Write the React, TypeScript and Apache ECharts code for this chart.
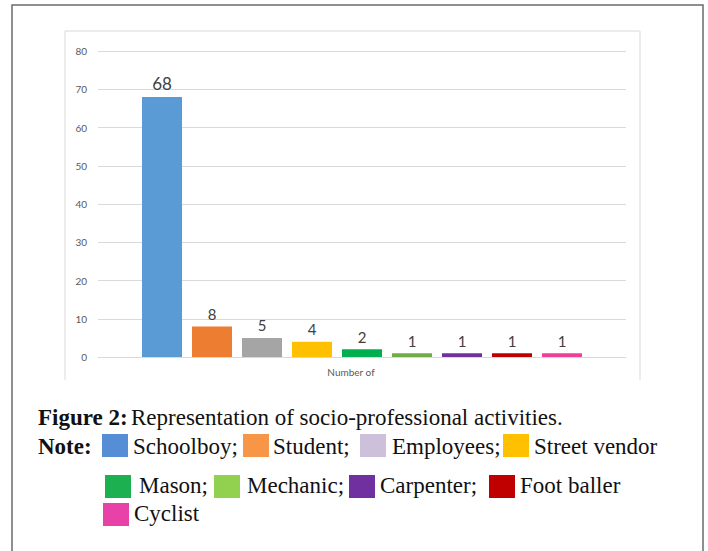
import React, { useEffect, useRef } from "react";
import * as echarts from "echarts";

const categories = ["Number of"];
const professions = [
  "Schoolboy",
  "Student",
  "Employees",
  "Street vendor",
  "Mason",
  "Mechanic",
  "Carpenter",
  "Foot baller",
  "Cyclist",
];
const counts = [68, 8, 5, 4, 2, 1, 1, 1, 1];
const barColors = [
  "#5B9BD5",
  "#ED7D31",
  "#A5A5A5",
  "#FFC000",
  "#00B050",
  "#70AD47",
  "#7030A0",
  "#C00000",
  "#EF3F9B",
];
const legendColors = [
  "#558ED5",
  "#F79646",
  "#CCC0DA",
  "#FFC000",
  "#1DB050",
  "#92D050",
  "#7030A0",
  "#C00000",
  "#E842A8",
];
const legendTexts = [
  "Schoolboy;",
  "Student;",
  "Employees;",
  "Street vendor",
  "Mason;",
  "Mechanic;",
  "Carpenter;",
  "Foot baller",
  "Cyclist",
];
const captionTitle = "Figure 2:";
const captionText = "Representation of socio-professional activities.";
const noteLabel = "Note:";

// layout of the legend (swatch x, text x, row index)
const legendLayout = [
  [102, 133, 0],
  [243, 273, 0],
  [360, 392, 0],
  [503, 534, 0],
  [105, 139, 1],
  [214, 247, 1],
  [349, 380, 1],
  [489, 520, 1],
  [103, 134, 2],
];
const rowTop = [434, 475, 503];
const rowBase = [453, 492, 520];

export default function App() {
  const ref = useRef<HTMLDivElement>(null);
  useEffect(() => {
    if (!ref.current) return;
    const chart = echarts.init(ref.current, undefined, { renderer: "svg" });
    const serif = "'Liberation Serif', 'Times New Roman', serif";
    const fs = 23;
    const graphics: any[] = [
      {
        type: "polyline",
        shape: { points: [[12, 551], [12, 5], [703, 5], [703, 551]] },
        style: { stroke: "#6b6b6b", lineWidth: 1.5, fill: "none" },
        silent: true,
      },
      {
        type: "polyline",
        shape: { points: [[65, 380], [65, 31], [640, 31], [640, 380]] },
        style: { stroke: "#d9d9d9", lineWidth: 1, fill: "none" },
        silent: true,
      },
      {
        type: "text",
        x: 38,
        y: 424 - 7,
        style: {
          text: captionTitle,
          font: `bold ${fs}px ${serif}`,
          fill: "#111",
          verticalAlign: "middle",
        },
      },
      {
        type: "text",
        x: 131,
        y: 424 - 7,
        style: {
          text: captionText,
          font: `${fs}px ${serif}`,
          fill: "#111",
          verticalAlign: "middle",
        },
      },
      {
        type: "text",
        x: 38,
        y: 453 - 7,
        style: {
          text: noteLabel,
          font: `bold ${fs}px ${serif}`,
          fill: "#111",
          verticalAlign: "middle",
        },
      },
    ];
    legendTexts.forEach((t, i) => {
      const [sx, tx, r] = legendLayout[i];
      graphics.push({
        type: "rect",
        shape: { x: sx, y: rowTop[r], width: 26, height: 23 },
        style: { fill: legendColors[i] },
      });
      graphics.push({
        type: "text",
        x: tx,
        y: rowBase[r] - 7,
        style: {
          text: t,
          font: `${fs}px ${serif}`,
          fill: "#111",
          verticalAlign: "middle",
        },
      });
    });

    chart.setOption({
      animation: false,
      backgroundColor: "#ffffff",
      grid: { left: 98, right: 82, top: 51, bottom: 194, containLabel: false },
      xAxis: {
        type: "category",
        data: categories,
        axisLine: { show: true, lineStyle: { color: "#d9d9d9", width: 1 } },
        axisTick: { show: false },
        axisLabel: {
          color: "#595959",
          fontSize: 10,
          fontFamily: "Lato",
          margin: 10,
          padding: [0, 22, 0, 0],
        },
      },
      yAxis: {
        type: "value",
        min: 0,
        max: 80,
        interval: 10,
        axisLine: { show: false },
        axisTick: { show: false },
        splitLine: { lineStyle: { color: "#d9d9d9", width: 1 } },
        axisLabel: { color: "#595959", fontSize: 10, fontFamily: "Lato", margin: 11 },
      },
      series: professions.map((name, i) => ({
        name,
        type: "bar",
        data: [counts[i]],
        barWidth: 40,
        barGap: "25%",
        itemStyle: { color: barColors[i] },
        label: {
          show: true,
          position: "top",
          color: "#404040",
          fontFamily: "Lato",
          fontSize: i === 0 ? 17 : 15,
          distance: 5,
        },
      })),
      graphic: graphics,
    });
    return () => chart.dispose();
  }, []);
  return (
    <div
      ref={ref}
      style={{ position: "fixed", left: 0, top: 0, width: 708, height: 551 }}
    />
  );
}
